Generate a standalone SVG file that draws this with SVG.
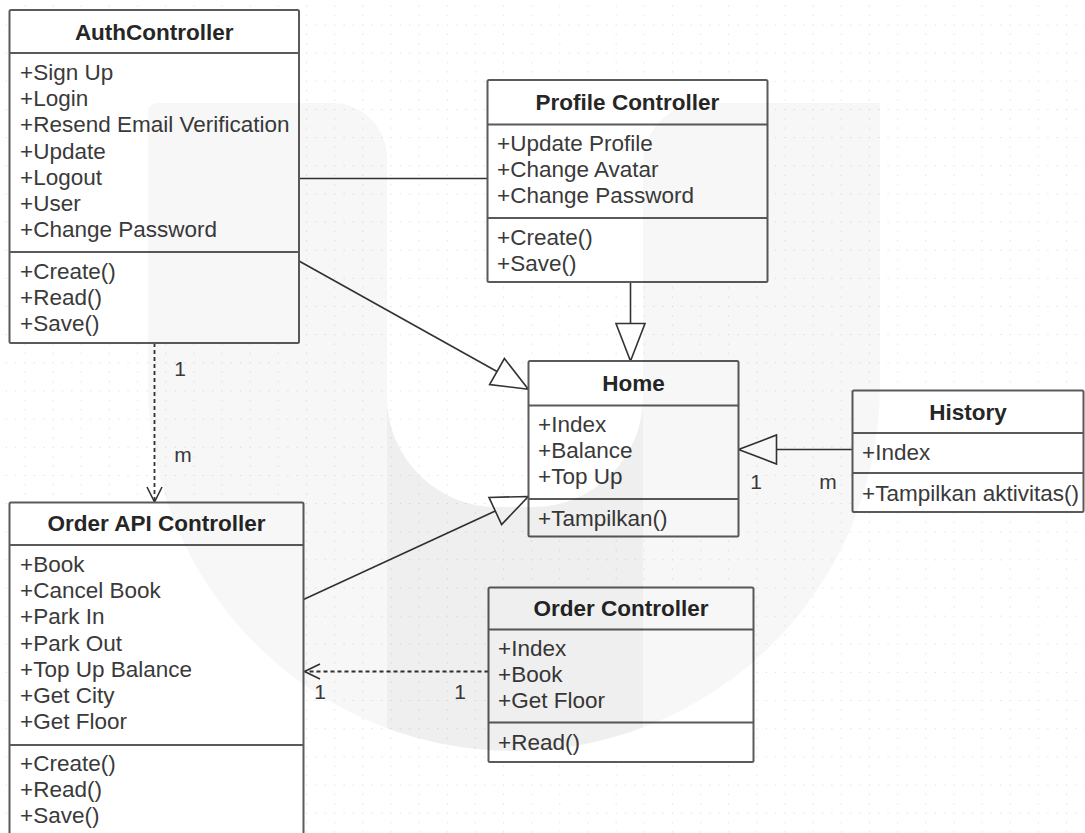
<svg xmlns="http://www.w3.org/2000/svg" width="1085" height="833" viewBox="0 0 1085 833">
<defs>
<style>
.box{fill:#fff;stroke:#5a5a5a;stroke-width:2}
.div{stroke:#5a5a5a;stroke-width:2}
.t{font-family:"Liberation Sans",Arial,sans-serif;font-size:22.5px;fill:#3a3a3a}
.h{font-family:"Liberation Sans",Arial,sans-serif;font-size:22.5px;font-weight:bold;fill:#262626;text-anchor:middle}
.lbl{font-family:"Liberation Sans",Arial,sans-serif;font-size:21px;fill:#3a3a3a;text-anchor:middle}
.ln{stroke:#333;stroke-width:1.6;fill:none}
.dash{stroke:#333;stroke-width:1.8;fill:none;stroke-dasharray:4 3}
.tri{fill:#fff;stroke:#333;stroke-width:1.6}
</style>
<pattern id="grid" x="24.5" y="24.5" width="28.15" height="28.15" patternUnits="userSpaceOnUse">
<rect x="0" y="0" width="1" height="1" fill="#d4d4d4"/>
<rect x="9.38" y="0" width="1" height="1" fill="#d4d4d4"/>
<rect x="18.77" y="0" width="1" height="1" fill="#d4d4d4"/>
<rect x="0" y="9.38" width="1" height="1" fill="#d4d4d4"/>
<rect x="0" y="18.77" width="1" height="1" fill="#d4d4d4"/>
</pattern>
</defs>
<rect width="1085" height="833" fill="#fff"/>
<rect width="1085" height="833" fill="url(#grid)"/>

<g id="connectors">
<line class="ln" x1="299" y1="178.5" x2="487.5" y2="178.5"/>
<line class="ln" x1="299" y1="261" x2="497" y2="371.5"/>
<polygon class="tri" points="528.3,389.3 489.6,384.5 504.4,358.5"/>
<line class="ln" x1="630.5" y1="282" x2="630.5" y2="323.5"/>
<polygon class="tri" points="616,323.5 645,323.5 630.5,361"/>
<line class="ln" x1="852.5" y1="449.5" x2="776.5" y2="449.5"/>
<polygon class="tri" points="738.5,449.5 776.5,435 776.5,464"/>
<line class="ln" x1="303.5" y1="599.5" x2="495.3" y2="511"/>
<polygon class="tri" points="528.3,496.5 489,497.4 501.6,524.6"/>
<line class="dash" x1="154.5" y1="343" x2="154.5" y2="501"/>
<polyline class="ln" points="147,487 154.5,502 162,487"/>
<line class="dash" x1="488.5" y1="671.5" x2="305" y2="671.5"/>
<polyline class="ln" points="320,664 304.5,671.5 320,679"/>
<text class="lbl" x="180" y="376">1</text>
<text class="lbl" x="183" y="462">m</text>
<text class="lbl" x="756" y="489">1</text>
<text class="lbl" x="828" y="489">m</text>
<text class="lbl" x="320" y="699">1</text>
<text class="lbl" x="460" y="699">1</text>
</g>

<g id="AuthController">
<rect class="box" x="9.5" y="10" width="289.5" height="333" rx="1.5"/>
<line class="div" x1="9.5" y1="53" x2="299" y2="53"/>
<line class="div" x1="9.5" y1="252" x2="299" y2="252"/>
<text class="h" x="154.25" y="40">AuthController</text>
<text class="t" x="20" y="80">+Sign Up</text>
<text class="t" x="20" y="106.2">+Login</text>
<text class="t" x="20" y="132.4">+Resend Email Verification</text>
<text class="t" x="20" y="158.6">+Update</text>
<text class="t" x="20" y="184.8">+Logout</text>
<text class="t" x="20" y="211">+User</text>
<text class="t" x="20" y="237.2">+Change Password</text>
<text class="t" x="20" y="279">+Create()</text>
<text class="t" x="20" y="305.2">+Read()</text>
<text class="t" x="20" y="331.4">+Save()</text>
</g>

<g id="ProfileController">
<rect class="box" x="487.5" y="80" width="280" height="202" rx="1.5"/>
<line class="div" x1="487.5" y1="124.5" x2="767.5" y2="124.5"/>
<line class="div" x1="487.5" y1="218" x2="767.5" y2="218"/>
<text class="h" x="627.5" y="109.5">Profile Controller</text>
<text class="t" x="497" y="151">+Update Profile</text>
<text class="t" x="497" y="177.2">+Change Avatar</text>
<text class="t" x="497" y="203.4">+Change Password</text>
<text class="t" x="497" y="244.5">+Create()</text>
<text class="t" x="497" y="270.7">+Save()</text>
</g>

<g id="Home">
<rect class="box" x="528.5" y="361" width="210" height="175.5" rx="1.5"/>
<line class="div" x1="528.5" y1="405.5" x2="738.5" y2="405.5"/>
<line class="div" x1="528.5" y1="499" x2="738.5" y2="499"/>
<text class="h" x="633.5" y="391">Home</text>
<text class="t" x="538" y="432">+Index</text>
<text class="t" x="538" y="458.2">+Balance</text>
<text class="t" x="538" y="484.4">+Top Up</text>
<text class="t" x="538" y="525.5">+Tampilkan()</text>
</g>

<g id="History">
<rect class="box" x="852.5" y="390.5" width="231" height="121.5" rx="1.5"/>
<line class="div" x1="852.5" y1="433" x2="1083.5" y2="433"/>
<line class="div" x1="852.5" y1="473" x2="1083.5" y2="473"/>
<text class="h" x="968" y="419.5">History</text>
<text class="t" x="862" y="460">+Index</text>
<text class="t" x="862" y="500.5">+Tampilkan aktivitas()</text>
</g>

<g id="OrderAPIController">
<rect class="box" x="9.5" y="502.5" width="294" height="340" rx="1.5"/>
<line class="div" x1="9.5" y1="545" x2="303.5" y2="545"/>
<line class="div" x1="9.5" y1="745" x2="303.5" y2="745"/>
<text class="h" x="156.5" y="531">Order API Controller</text>
<text class="t" x="20" y="572">+Book</text>
<text class="t" x="20" y="598.2">+Cancel Book</text>
<text class="t" x="20" y="624.4">+Park In</text>
<text class="t" x="20" y="650.6">+Park Out</text>
<text class="t" x="20" y="676.8">+Top Up Balance</text>
<text class="t" x="20" y="703">+Get City</text>
<text class="t" x="20" y="729.2">+Get Floor</text>
<text class="t" x="20" y="771">+Create()</text>
<text class="t" x="20" y="797.2">+Read()</text>
<text class="t" x="20" y="823.4">+Save()</text>
</g>

<g id="OrderController">
<rect class="box" x="488.5" y="587.5" width="265" height="174.5" rx="1.5"/>
<line class="div" x1="488.5" y1="629.5" x2="753.5" y2="629.5"/>
<line class="div" x1="488.5" y1="722.5" x2="753.5" y2="722.5"/>
<text class="h" x="621" y="616">Order Controller</text>
<text class="t" x="498" y="656">+Index</text>
<text class="t" x="498" y="682.2">+Book</text>
<text class="t" x="498" y="708.4">+Get Floor</text>
<text class="t" x="498" y="749.5">+Read()</text>
</g>

<g id="watermark" pointer-events="none">
<path d="M148,113 Q148,103 158,103 L332,103 A55,55 0 0 1 387,158 L387,397 A110,110 0 0 0 497,507 L533,507 A110,110 0 0 0 643,397 L643,163 A60,60 0 0 1 703,103 L880,103 L880,385 A366,366 0 0 1 148,385 Z" fill="#000" fill-opacity="0.032"/>
<path d="M387,397 A110,110 0 0 0 497,507 L533,507 A110,110 0 0 0 643,397 L643,727.5 A366,366 0 0 1 387,728.3 Z" fill="#000" fill-opacity="0.03"/>
</g>
</svg>
